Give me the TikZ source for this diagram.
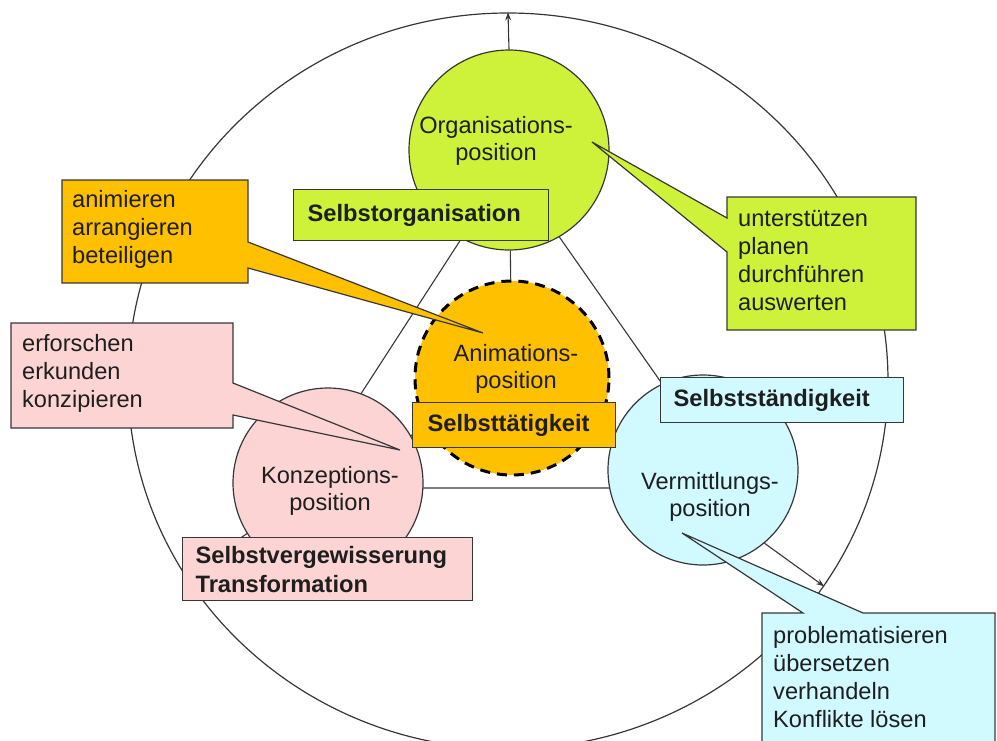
\documentclass[tikz,border=0pt]{standalone}
\usepackage{fontspec}
\setmainfont{Liberation Sans}
\usetikzlibrary{shapes.geometric,arrows.meta}

\definecolor{limefill}{RGB}{206,242,58}
\definecolor{goldfill}{RGB}{255,192,0}
\definecolor{pinkfill}{RGB}{252,212,212}
\definecolor{cyanfill}{RGB}{208,250,255}
\definecolor{edge}{RGB}{55,55,55}
\definecolor{ink}{RGB}{30,30,30}

\pgfdeclarelayer{bg}
\pgfsetlayers{bg,main}

\tikzset{
  ringstyle/.style={ellipse, draw=edge, line width=1.2pt, minimum width=760pt, minimum height=736pt, inner sep=0pt},
  diskstyle/.style={circle, draw=edge, line width=1.2pt, inner sep=0pt},
  tiestyle/.style={draw=edge, line width=1.1pt},
  arrowstyle/.style={tiestyle, -{Stealth[length=8pt,width=6pt]}},
  plaintext/.style={inner sep=0pt, text=ink, align=left, anchor=west, font=\fontsize{23.6}{28}\selectfont},
  midtext/.style={inner sep=0pt, text=ink, align=center, font=\fontsize{23.6}{27.5}\selectfont},
  tagbox/.style={draw=edge, line width=1.2pt, anchor=north west, inner ysep=0pt, align=left, text=ink, font=\fontsize{23.7}{29}\selectfont\bfseries},
  balloonstyle/.style={draw=edge, line width=1.2pt, line join=miter},
}

\begin{document}
\begin{tikzpicture}[x=1pt,y=-1pt]
\useasboundingbox (0,0) rectangle (997,740);

% outer ring
\node[ringstyle] (rim) at (508,381) {};

% the four positions
\node[diskstyle, fill=limefill, minimum size=200pt] (org) at (509,150) {};
\node[diskstyle, fill=pinkfill, minimum size=190pt] (konz) at (328,483) {};
\node[diskstyle, fill=cyanfill, minimum size=190pt] (verm) at (703,470) {};
\node[diskstyle, fill=goldfill, minimum size=194pt, draw=black, line width=3pt, dash pattern=on 10pt off 7pt] (anim) at (512,378) {};

% triangle, spokes and arrows behind the discs
\coordinate (apex) at (509,165);
\coordinate (tl) at (300,488);
\coordinate (tr) at (735,488);
\begin{pgfonlayer}{bg}
  \draw[tiestyle] (apex) -- (tl) -- (tr) -- cycle;
  \draw[tiestyle] (org) -- (anim);
  \draw[tiestyle] (konz) -- (anim);
  \draw[arrowstyle] (org.north) -- (rim.north);
  \draw[arrowstyle] (verm.-50) -- (rim.-33);
  \draw[arrowstyle] (konz.-148) -- (rim.-149);
\end{pgfonlayer}

% disc captions
\node[midtext] (orgtext) at (496,141) {Organisations-\\position};
\node[midtext] (animtext) at (516,369) {Animations-\\position};
\node[midtext] (konztext) at (330,491) {Konzeptions-\\position};
\node[midtext] (vermtext) at (710,497) {Vermittlungs-\\position};

% bold labels
\node[tagbox, fill=limefill, inner xsep=14pt, text width=227pt, minimum height=51pt] (orgtag) at (293,189) {Selbstorganisation};
\node[tagbox, fill=goldfill, inner xsep=15pt, text width=173pt, minimum height=45pt] (animtag) at (412,402) {Selbsttätigkeit};
\node[tagbox, fill=cyanfill, inner xsep=13pt, text width=217pt, minimum height=45pt] (vermtag) at (660,377) {Selbstständigkeit};
\node[tagbox, fill=pinkfill, inner xsep=13pt, text width=264pt, minimum height=63pt] (konztag) at (182,537) {Selbstvergewisserung\\Transformation};

% callouts
\filldraw[balloonstyle, fill=goldfill] (62,180) -- (248,180) -- (248,242) -- (483,333) -- (248,268) -- (248,283) -- (62,283) -- cycle;
\node[plaintext] (animnote) at (72,229) {animieren\\arrangieren\\beteiligen};

\filldraw[balloonstyle, fill=pinkfill] (11,323) -- (233,323) -- (233,383) -- (400,450) -- (233,415) -- (233,428) -- (11,428) -- cycle;
\node[plaintext] (konznote) at (22,373) {erforschen\\erkunden\\konzipieren};

\filldraw[balloonstyle, fill=limefill] (727,197) -- (916,197) -- (916,330) -- (727,330) -- (727,252) -- (592,142) -- (727,218) -- cycle;
\node[plaintext] (orgnote) at (738,261) {unterstützen\\planen\\durchführen\\auswerten};

\filldraw[balloonstyle, fill=cyanfill] (762,613) -- (803,613) -- (682,533) -- (863,613) -- (995,613) -- (995,750) -- (762,750) -- cycle;
\node[plaintext] (vermnote) at (773,677) {problematisieren\\übersetzen\\verhandeln\\Konflikte lösen};
\end{tikzpicture}
\end{document}
